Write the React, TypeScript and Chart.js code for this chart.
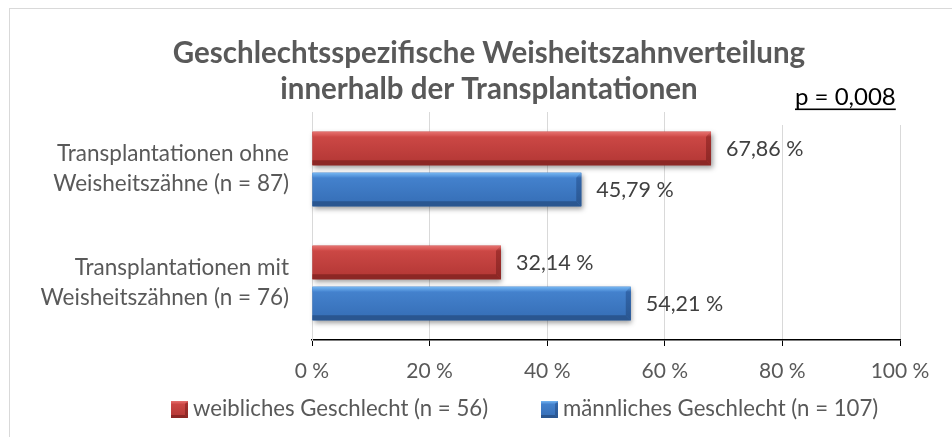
import React, { useEffect, useRef } from 'react';
import { Chart, registerables } from 'chart.js';

Chart.register(...registerables);

// ---------- data ----------
const TITLE_LINES = ['Geschlechtsspezifische Weisheitszahnverteilung', 'innerhalb der Transplantationen'];
const P_VALUE_TEXT = 'p = 0,008';
const CATEGORIES = [
  ['Transplantationen ohne', 'Weisheitszähne (n = 87)'],
  ['Transplantationen mit', 'Weisheitszähnen (n = 76)'],
];
const SERIES_LABELS = ['weibliches Geschlecht (n = 56)', 'männliches Geschlecht (n = 107)'];
const FEMALE_VALUES = [67.86, 32.14];
const MALE_VALUES = [45.79, 54.21];
const X_MIN = 0;
const X_MAX = 100;
const X_STEP = 20;

// ---------- style ----------
const FONT = 'Lato, "Noto Sans", sans-serif';
const TEXT = '#595959';
const PALETTES = [
  { main: '#C4403D', top: '#D04B48', bottom: '#B23634', light: '#E5716F', dark: '#8C2725', side: '#A3302E' },
  { main: '#3C79C6', top: '#4685D1', bottom: '#356DB5', light: '#74B5F1', dark: '#2A5690', side: '#3165AA' },
];

const fmt = (v: number) => v.toFixed(2).replace('.', ',') + ' %';

function poly(ctx: CanvasRenderingContext2D, pts: number[][], fill: string | CanvasGradient) {
  ctx.beginPath();
  ctx.moveTo(pts[0][0], pts[0][1]);
  for (let i = 1; i < pts.length; i++) ctx.lineTo(pts[i][0], pts[i][1]);
  ctx.closePath();
  ctx.fillStyle = fill;
  ctx.fill();
}

function drawBevel(ctx: CanvasRenderingContext2D, l: number, t: number, r: number, b: number, pal: any, bevel: number, shadow: boolean) {
  const bv = Math.min(bevel, (b - t) / 3, (r - l) / 2);
  ctx.save();
  if (shadow) {
    ctx.shadowColor = 'rgba(0,0,0,0.38)';
    ctx.shadowBlur = 5;
    ctx.shadowOffsetX = 1.5;
    ctx.shadowOffsetY = 2.5;
  }
  const g = ctx.createLinearGradient(0, t, 0, b);
  g.addColorStop(0, pal.top);
  g.addColorStop(1, pal.bottom);
  ctx.fillStyle = g;
  ctx.fillRect(l, t, r - l, b - t);
  ctx.restore();
  // top bevel
  const gt = ctx.createLinearGradient(0, t, 0, t + bv);
  gt.addColorStop(0, pal.light);
  gt.addColorStop(1, pal.top);
  poly(ctx, [[l, t], [r, t], [r - bv, t + bv], [l, t + bv]], gt);
  // bottom bevel
  poly(ctx, [[l, b], [r, b], [r - bv, b - bv], [l, b - bv]], pal.dark);
  // right bevel
  const gs = ctx.createLinearGradient(0, t, 0, b);
  gs.addColorStop(0, pal.light);
  gs.addColorStop(0.15, pal.side);
  gs.addColorStop(1, pal.dark);
  poly(ctx, [[r, t], [r, b], [r - bv, b - bv], [r - bv, t + bv]], gs);
}

const decorPlugin = {
  id: 'decor',
  afterDatasetsDraw(chart: any) {
    const ctx: CanvasRenderingContext2D = chart.ctx;
    chart.data.datasets.forEach((ds: any, i: number) => {
      const meta = chart.getDatasetMeta(i);
      meta.data.forEach((el: any, j: number) => {
        const { x, y, base, height } = el.getProps(['x', 'y', 'base', 'height'], true);
        const l = Math.min(base, x);
        const r = Math.max(base, x);
        drawBevel(ctx, l, y - height / 2, r, y + height / 2, PALETTES[i], 5, true);
        ctx.save();
        ctx.font = `21.5px ${FONT}`;
        ctx.fillStyle = '#404040';
        ctx.textAlign = 'left';
        ctx.textBaseline = 'middle';
        ctx.fillText(fmt(ds.data[j]), r + 15, y + 1);
        ctx.restore();
      });
    });
  },
  afterDraw(chart: any) {
    const ctx: CanvasRenderingContext2D = chart.ctx;
    ctx.save();
    // outer chart border
    ctx.strokeStyle = '#D9D9D9';
    ctx.lineWidth = 1;
    ctx.strokeRect(9.5, 8.5, chart.width + 20, chart.height + 20);
    // title
    ctx.fillStyle = TEXT;
    ctx.font = `bold 29.5px ${FONT}`;
    ctx.textAlign = 'center';
    ctx.textBaseline = 'middle';
    ctx.fillText(TITLE_LINES[0], 489, 53);
    ctx.fillText(TITLE_LINES[1], 489, 89);
    // p-value box
    ctx.fillStyle = '#FFFFFF';
    ctx.fillRect(776, 70, 136, 55);
    ctx.fillStyle = '#000000';
    ctx.font = `24px ${FONT}`;
    ctx.textAlign = 'left';
    ctx.textBaseline = 'alphabetic';
    ctx.fillText(P_VALUE_TEXT, 795, 105);
    const pw = ctx.measureText(P_VALUE_TEXT).width;
    ctx.fillRect(795, 108.5, pw, 1.6);
    // legend
    const items = [171, 541];
    chart.data.datasets.forEach((ds: any, i: number) => {
      const bx = items[i];
      drawBevel(ctx, bx, 401, bx + 17, 418, PALETTES[i], 3, false);
      ctx.fillStyle = TEXT;
      ctx.font = `22.2px ${FONT}`;
      ctx.textBaseline = 'middle';
      ctx.fillText(ds.label, bx + 22, 409);
    });
    ctx.restore();
  },
};

export default function App() {
  const ref = useRef<HTMLCanvasElement>(null);
  useEffect(() => {
    const canvas = ref.current;
    if (!canvas) return;
    const chart = new Chart(canvas, {
      type: 'bar',
      data: {
        labels: CATEGORIES,
        datasets: [
          { label: SERIES_LABELS[0], data: FEMALE_VALUES, backgroundColor: PALETTES[0].main, borderWidth: 0 },
          { label: SERIES_LABELS[1], data: MALE_VALUES, backgroundColor: PALETTES[1].main, borderWidth: 0 },
        ],
      },
      options: {
        indexAxis: 'y',
        responsive: false,
        animation: false,
        devicePixelRatio: 1,
        layout: { padding: { top: 112, right: 52, bottom: 52, left: 0 } },
        datasets: { bar: { categoryPercentage: 0.721, barPercentage: 0.813 } },
        plugins: {
          legend: { display: false },
          title: { display: false },
          tooltip: { enabled: false },
        },
        scales: {
          x: {
            min: X_MIN,
            max: X_MAX,
            ticks: {
              stepSize: X_STEP,
              callback: (v: any) => `${v} %`,
              color: TEXT,
              font: { family: FONT, size: 21 },
              padding: 13,
              maxRotation: 0,
            },
            grid: { color: '#D9D9D9', tickColor: '#000000', tickLength: 6, lineWidth: 1 },
            border: { color: '#000000', width: 1.5 },
            afterFit: (s: any) => { s.height = 45; },
          },
          y: {
            ticks: {
              color: TEXT,
              font: { family: FONT, size: 22.5, lineHeight: '30px' },
              padding: 15,
              crossAlign: 'near',
            },
            grid: { display: false },
            border: { display: true, color: '#D9D9D9', width: 1 },
            afterFit: (s: any) => { s.width = 312; },
          },
        },
      } as any,
      plugins: [decorPlugin],
    });
    return () => chart.destroy();
  }, []);
  return (
    <div style={{ position: 'fixed', left: 0, top: 0, width: 952, height: 437, background: '#fff' }}>
      <canvas ref={ref} width={952} height={437} style={{ display: 'block' }} />
    </div>
  );
}
